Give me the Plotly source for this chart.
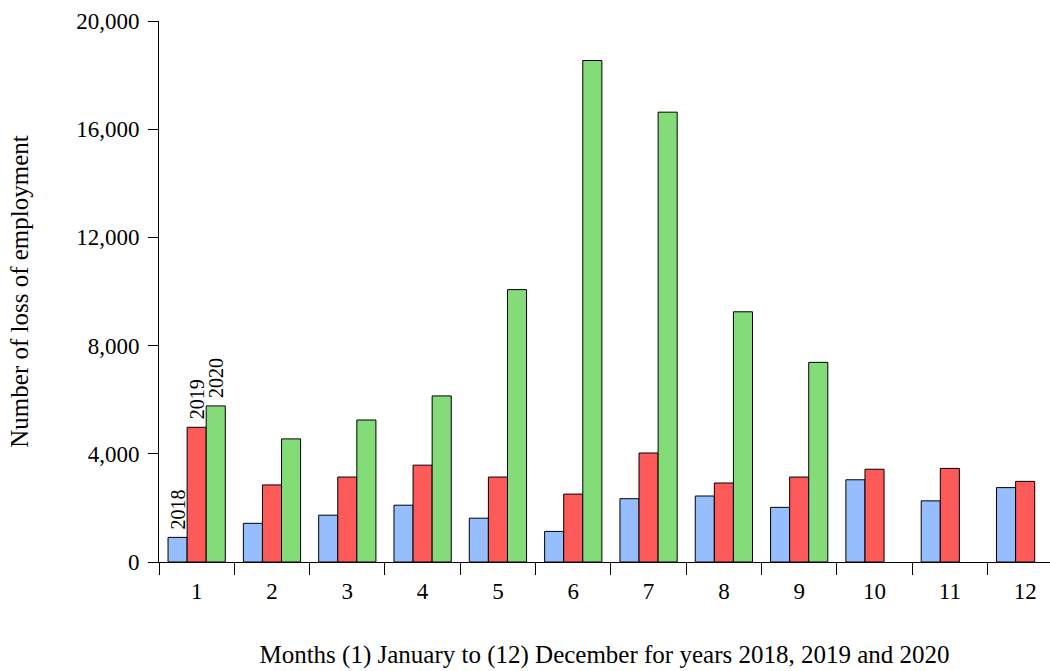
import plotly.graph_objects as go

months = ["1", "2", "3", "4", "5", "6", "7", "8", "9", "10", "11", "12"]
y2018 = [910, 1430, 1730, 2100, 1620, 1130, 2340, 2440, 2020, 3040, 2260, 2750]
y2019 = [4980, 2850, 3140, 3580, 3140, 2510, 4030, 2920, 3140, 3430, 3460, 2980]
y2020 = [5770, 4550, 5250, 6140, 10070, 18540, 16630, 9250, 7380, None, None, None]
series_names = ["2018", "2019", "2020"]
colors = ["#96BEFF", "#FF5A5A", "#84DC78"]

font_family = "Liberation Serif, Times New Roman, serif"

fig = go.Figure()
for name, vals, col in zip(series_names, [y2018, y2019, y2020], colors):
    txt = ["\u00a0" + name] + [""] * (len(months) - 1)
    fig.add_trace(go.Bar(
        x=months, y=vals, name=name,
        marker=dict(color=col, line=dict(color="black", width=1)),
        text=txt, textposition="outside", textangle=-90,
        constraintext="none",
        textfont=dict(family=font_family, size=20, color="black"),
        cliponaxis=False,
    ))

fig.update_layout(
    width=1050, height=671,
    margin=dict(l=159, r=0, t=21, b=109, autoexpand=False),
    paper_bgcolor="white", plot_bgcolor="white",
    barmode="group", bargap=0.24, bargroupgap=0,
    showlegend=False,
    font=dict(family=font_family, size=20, color="black"),
)
fig.update_xaxes(
    range=[-0.5, 11.33], automargin=False,
    showline=True, linecolor="black", linewidth=1,
    ticks="outside", tickson="boundaries", ticklen=12, tickcolor="black",
    ticklabelstandoff=8,
    showgrid=False, zeroline=False,
    tickfont=dict(family=font_family, size=23),
    title=dict(text="Months (1) January to (12) December for years 2018, 2019 and 2020",
               font=dict(family=font_family, size=25), standoff=42),
)
fig.update_yaxes(
    range=[0, 20000], automargin=False,
    tickvals=[0, 4000, 8000, 12000, 16000, 20000],
    ticktext=["0", "4,000", "8,000", "12,000", "16,000", "20,000"],
    showline=True, linecolor="black", linewidth=1,
    ticks="outside", ticklen=10, tickcolor="black",
    ticklabelstandoff=4,
    showgrid=False, zeroline=False,
    tickfont=dict(family=font_family, size=23),
    title=dict(text="Number of loss of employment",
               font=dict(family=font_family, size=25), standoff=40),
)

fig.write_html("out.html", config={"displayModeBar": False},
               post_script="document.body.style.margin='0';")
